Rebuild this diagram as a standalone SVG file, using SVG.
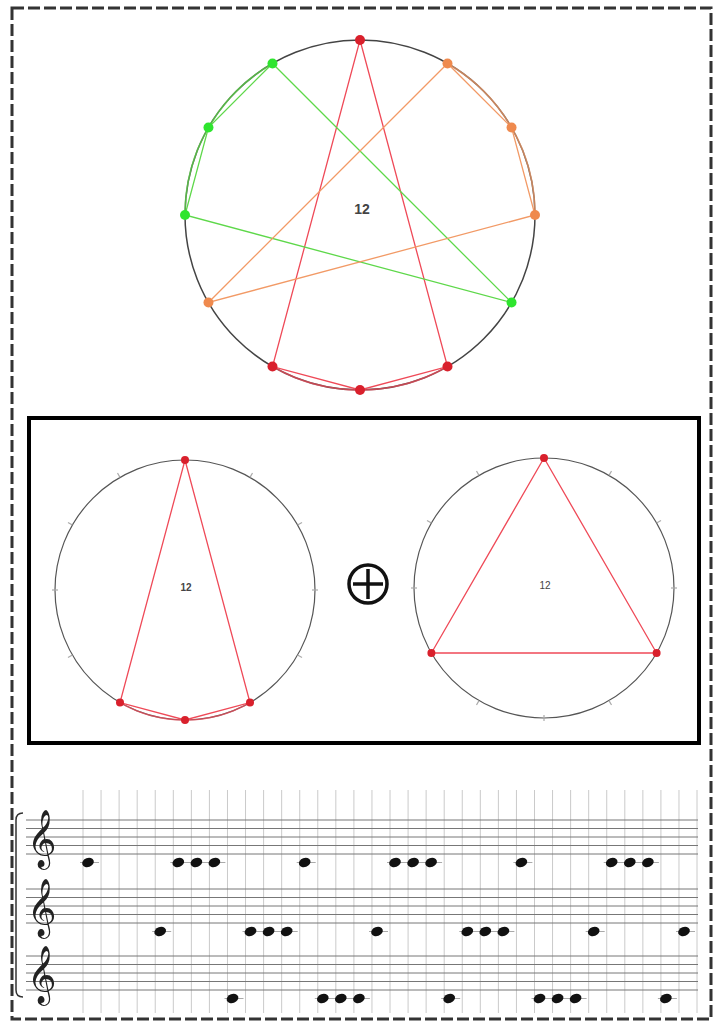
<svg xmlns="http://www.w3.org/2000/svg" width="715" height="1022" viewBox="0 0 715 1022">
<style>
.frame{fill:none;stroke:#333;stroke-width:3;stroke-dasharray:12 4}
.box{fill:none;stroke:#000;stroke-width:4}
.big{fill:none;stroke:#444;stroke-width:1.5}
.mid{fill:none;stroke:#555;stroke-width:1.2}
.tick{stroke:#aaa;stroke-width:1.2}
.rl{stroke:#ef4a58;stroke-width:1.3;fill:none}
.gl{stroke:#5ed84a;stroke-width:1.3;fill:none}
.ol{stroke:#f29a66;stroke-width:1.3;fill:none}
.arc{fill:none;stroke-width:1.6;stroke-opacity:0.75}
.rd{fill:#d9202c}
.gd{fill:#2ee52e}
.od{fill:#ef8a4e}
.lbl{font-family:"Liberation Sans",Arial,sans-serif;fill:#444;text-anchor:middle}
.staff{stroke:#777;stroke-width:1}
.grid{stroke:#cacaca;stroke-width:1}
.note{fill:#111}
.clef{font-family:"DejaVu Sans","Noto Sans",sans-serif;font-size:50px;fill:#222;text-anchor:middle}
</style>
<defs>
<g id="nh">
<line x1="-8" y1="0" x2="11" y2="0" stroke="#aaa" stroke-width="1"/>
<ellipse cx="0" cy="0" rx="6" ry="4.5" transform="rotate(-20)" fill="#111"/>
</g>
</defs>
<rect class="frame" x="12" y="8" width="699" height="1011"/>

<g id="chromatic-circle">
<circle class="big" cx="360" cy="215" r="175"/>
<g id="red-shape">
<path class="arc" stroke="#ef4a58" d="M447.5,366.55 A175,175 0 0 1 272.5,366.55"/>
<polygon class="rl" points="360,40 447.5,366.55 360,390 272.5,366.55"/>
</g>
<g id="green-shape">
<path class="arc" stroke="#5ed84a" d="M185,215 A175,175 0 0 1 272.5,63.45"/>
<polygon class="gl" points="511.55,302.5 272.5,63.45 208.45,127.5 185,215"/>
</g>
<g id="orange-shape">
<path class="arc" stroke="#f29a66" d="M447.5,63.45 A175,175 0 0 1 535,215"/>
<polygon class="ol" points="208.45,302.5 447.5,63.45 511.55,127.5 535,215"/>
</g>
<g id="dots">
<circle class="rd" cx="360" cy="40" r="5"/>
<circle class="rd" cx="447.5" cy="366.55" r="5"/>
<circle class="rd" cx="360" cy="390" r="5"/>
<circle class="rd" cx="272.5" cy="366.55" r="5"/>
<circle class="gd" cx="511.55" cy="302.5" r="5"/>
<circle class="gd" cx="272.5" cy="63.45" r="5"/>
<circle class="gd" cx="208.45" cy="127.5" r="5"/>
<circle class="gd" cx="185" cy="215" r="5"/>
<circle class="od" cx="208.45" cy="302.5" r="5"/>
<circle class="od" cx="447.5" cy="63.45" r="5"/>
<circle class="od" cx="511.55" cy="127.5" r="5"/>
<circle class="od" cx="535" cy="215" r="5"/>
</g>
<text class="lbl" x="362" y="214" font-size="14" font-weight="bold">12</text>
</g>

<rect class="box" x="29" y="418" width="670" height="325"/>

<g id="left-circle">
<circle class="mid" cx="185" cy="590" r="130"/>
<g class="tick">
<line x1="250" y1="477.4" x2="252.5" y2="473"/>
<line x1="297.6" y1="525" x2="302" y2="522.5"/>
<line x1="312" y1="590" x2="318" y2="590"/>
<line x1="297.6" y1="655" x2="302" y2="657.5"/>
<line x1="72.4" y1="655" x2="68" y2="657.5"/>
<line x1="58" y1="590" x2="52" y2="590"/>
<line x1="72.4" y1="525" x2="68" y2="522.5"/>
<line x1="120" y1="477.4" x2="117.5" y2="473"/>
</g>
<path class="arc" stroke="#ef4a58" d="M250,702.6 A130,130 0 0 1 120,702.6"/>
<polygon class="rl" points="185,460 250,702.6 185,720 120,702.6"/>
<circle class="rd" cx="185" cy="460" r="4"/>
<circle class="rd" cx="250" cy="702.6" r="4"/>
<circle class="rd" cx="185" cy="720" r="4"/>
<circle class="rd" cx="120" cy="702.6" r="4"/>
<text class="lbl" x="186" y="591" font-size="10" font-weight="bold">12</text>
</g>

<g id="plus-sign">
<circle cx="368" cy="584" r="19" fill="none" stroke="#111" stroke-width="3.5"/>
<line x1="353" y1="584" x2="383" y2="584" stroke="#111" stroke-width="3.5"/>
<line x1="368" y1="569" x2="368" y2="599" stroke="#111" stroke-width="3.5"/>
</g>

<g id="right-circle">
<circle class="mid" cx="544" cy="588" r="130"/>
<g class="tick">
<line x1="609" y1="475.4" x2="611.5" y2="471"/>
<line x1="656.6" y1="523" x2="661" y2="520.5"/>
<line x1="671" y1="588" x2="677" y2="588"/>
<line x1="609" y1="700.6" x2="611.5" y2="705"/>
<line x1="544" y1="715" x2="544" y2="721"/>
<line x1="479" y1="700.6" x2="476.5" y2="705"/>
<line x1="417" y1="588" x2="411" y2="588"/>
<line x1="431.4" y1="523" x2="427" y2="520.5"/>
<line x1="479" y1="475.4" x2="476.5" y2="471"/>
</g>
<polygon class="rl" points="544,458 656.6,653 431.4,653"/>
<circle class="rd" cx="544" cy="458" r="4"/>
<circle class="rd" cx="656.6" cy="653" r="4"/>
<circle class="rd" cx="431.4" cy="653" r="4"/>
<text class="lbl" x="545" y="589" font-size="10">12</text>
</g>

<g id="score">
<g id="grid" class="grid">
<line x1="83" y1="790" x2="83" y2="1013"/><line x1="101.06" y1="790" x2="101.06" y2="1013"/><line x1="119.12" y1="790" x2="119.12" y2="1013"/><line x1="137.18" y1="790" x2="137.18" y2="1013"/><line x1="155.24" y1="790" x2="155.24" y2="1013"/><line x1="173.3" y1="790" x2="173.3" y2="1013"/><line x1="191.36" y1="790" x2="191.36" y2="1013"/><line x1="209.42" y1="790" x2="209.42" y2="1013"/><line x1="227.48" y1="790" x2="227.48" y2="1013"/><line x1="245.54" y1="790" x2="245.54" y2="1013"/><line x1="263.6" y1="790" x2="263.6" y2="1013"/><line x1="281.66" y1="790" x2="281.66" y2="1013"/><line x1="299.72" y1="790" x2="299.72" y2="1013"/><line x1="317.78" y1="790" x2="317.78" y2="1013"/><line x1="335.84" y1="790" x2="335.84" y2="1013"/><line x1="353.9" y1="790" x2="353.9" y2="1013"/><line x1="371.96" y1="790" x2="371.96" y2="1013"/><line x1="390.02" y1="790" x2="390.02" y2="1013"/><line x1="408.08" y1="790" x2="408.08" y2="1013"/><line x1="426.14" y1="790" x2="426.14" y2="1013"/><line x1="444.2" y1="790" x2="444.2" y2="1013"/><line x1="462.26" y1="790" x2="462.26" y2="1013"/><line x1="480.32" y1="790" x2="480.32" y2="1013"/><line x1="498.38" y1="790" x2="498.38" y2="1013"/><line x1="516.44" y1="790" x2="516.44" y2="1013"/><line x1="534.5" y1="790" x2="534.5" y2="1013"/><line x1="552.56" y1="790" x2="552.56" y2="1013"/><line x1="570.62" y1="790" x2="570.62" y2="1013"/><line x1="588.68" y1="790" x2="588.68" y2="1013"/><line x1="606.74" y1="790" x2="606.74" y2="1013"/><line x1="624.8" y1="790" x2="624.8" y2="1013"/><line x1="642.86" y1="790" x2="642.86" y2="1013"/><line x1="660.92" y1="790" x2="660.92" y2="1013"/><line x1="678.98" y1="790" x2="678.98" y2="1013"/><line x1="697" y1="790" x2="697" y2="1013"/>
</g>
<g id="staves" class="staff">
<line x1="26" y1="820" x2="698" y2="820"/><line x1="26" y1="828.5" x2="698" y2="828.5"/><line x1="26" y1="837" x2="698" y2="837"/><line x1="26" y1="845.5" x2="698" y2="845.5"/><line x1="26" y1="854" x2="698" y2="854"/>
<line x1="26" y1="889" x2="698" y2="889"/><line x1="26" y1="897.5" x2="698" y2="897.5"/><line x1="26" y1="906" x2="698" y2="906"/><line x1="26" y1="914.5" x2="698" y2="914.5"/><line x1="26" y1="923" x2="698" y2="923"/>
<line x1="26" y1="956" x2="698" y2="956"/><line x1="26" y1="964.5" x2="698" y2="964.5"/><line x1="26" y1="973" x2="698" y2="973"/><line x1="26" y1="981.5" x2="698" y2="981.5"/><line x1="26" y1="990" x2="698" y2="990"/>
</g>
<path d="M23,813 Q16,813 16,820 L16,990 Q16,997 23,997" fill="none" stroke="#333" stroke-width="1.5"/>
<text class="clef" x="42" y="855">𝄞</text>
<text class="clef" x="42" y="924">𝄞</text>
<text class="clef" x="42" y="991">𝄞</text>
<g id="staff1-notes">
<use href="#nh" x="88" y="862.5"/>
<use href="#nh" x="178.3" y="862.5"/>
<use href="#nh" x="196.4" y="862.5"/>
<use href="#nh" x="214.4" y="862.5"/>
<use href="#nh" x="304.7" y="862.5"/>
<use href="#nh" x="395" y="862.5"/>
<use href="#nh" x="413.1" y="862.5"/>
<use href="#nh" x="431.1" y="862.5"/>
<use href="#nh" x="521.4" y="862.5"/>
<use href="#nh" x="611.7" y="862.5"/>
<use href="#nh" x="629.8" y="862.5"/>
<use href="#nh" x="647.9" y="862.5"/>
</g>
<g id="staff2-notes">
<use href="#nh" x="160.2" y="931.5"/>
<use href="#nh" x="250.5" y="931.5"/>
<use href="#nh" x="268.6" y="931.5"/>
<use href="#nh" x="286.7" y="931.5"/>
<use href="#nh" x="377" y="931.5"/>
<use href="#nh" x="467.3" y="931.5"/>
<use href="#nh" x="485.3" y="931.5"/>
<use href="#nh" x="503.4" y="931.5"/>
<use href="#nh" x="593.7" y="931.5"/>
<use href="#nh" x="684" y="931.5"/>
</g>
<g id="staff3-notes">
<use href="#nh" x="232.5" y="998.5"/>
<use href="#nh" x="322.8" y="998.5"/>
<use href="#nh" x="340.8" y="998.5"/>
<use href="#nh" x="358.9" y="998.5"/>
<use href="#nh" x="449.2" y="998.5"/>
<use href="#nh" x="539.5" y="998.5"/>
<use href="#nh" x="557.6" y="998.5"/>
<use href="#nh" x="575.6" y="998.5"/>
<use href="#nh" x="665.9" y="998.5"/>
</g>
</g>
</svg>
